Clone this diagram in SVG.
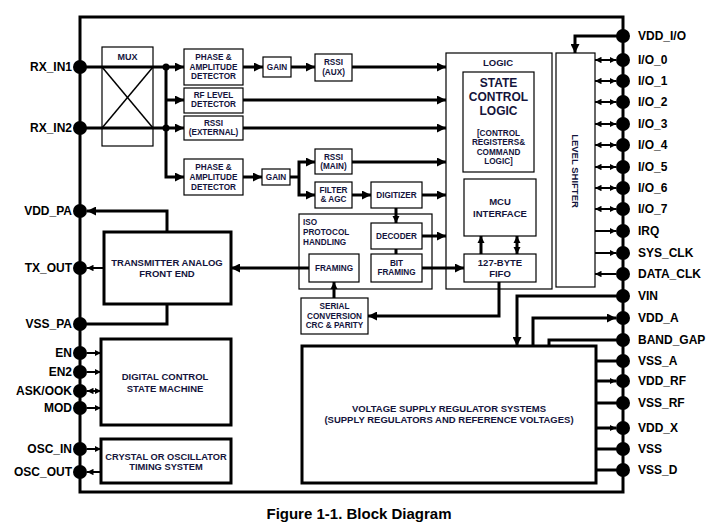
<svg xmlns="http://www.w3.org/2000/svg" width="717" height="528" viewBox="0 0 717 528">
<style>
.b{fill:#fff;stroke:#000;stroke-width:1.2}
.bt{fill:#fff;stroke:#000;stroke-width:3}
.c{fill:none;stroke:#000;stroke-width:3}
.cs{fill:none;stroke:#000;stroke-width:2}
.cx{fill:none;stroke:#000;stroke-width:1.5}
text{font-family:"Liberation Sans",Arial,sans-serif;font-weight:bold}
.t{fill:#14143c;text-anchor:middle}
.s{font-size:8.2px}
.m{font-size:9.5px}
.pl{font-size:12px;fill:#000;text-anchor:end}
.pr{font-size:12px;fill:#000}
.dot{fill:#000}
</style>
<defs>
<marker id="a" viewBox="0 0 10 10" refX="10" refY="5" markerWidth="9" markerHeight="9" markerUnits="userSpaceOnUse" orient="auto-start-reverse"><path d="M0,0L10,5L0,10z"/></marker>
<marker id="am" viewBox="0 0 10 10" refX="10" refY="5" markerWidth="7" markerHeight="8" markerUnits="userSpaceOnUse" orient="auto-start-reverse"><path d="M0,0L10,5L0,10z"/></marker>
<marker id="as" viewBox="0 0 10 10" refX="10" refY="5" markerWidth="6.5" markerHeight="6.5" markerUnits="userSpaceOnUse" orient="auto-start-reverse"><path d="M0,0L10,5L0,10z"/></marker>
</defs>
<rect width="717" height="528" fill="#fff"/>
<rect id="frame" x="80" y="17" width="543" height="475" fill="none" stroke="#000" stroke-width="3"/>

<g id="mux"><rect class="b" x="102" y="47" width="51" height="99"/><line class="cx" x1="102" y1="67" x2="153" y2="128"/><line class="cx" x1="102" y1="128" x2="153" y2="67"/><text class="t m" x="127.5" y="59.5" style="font-size:9px">MUX</text></g>
<g id="pad1"><rect class="b" x="184" y="49" width="59" height="36"/><text class="t s" x="213.5" y="60">PHASE &amp;</text><text class="t s" x="213.5" y="69.5">AMPLITUDE</text><text class="t s" x="213.5" y="79">DETECTOR</text></g>
<g id="gain1"><rect class="b" x="263" y="57" width="28" height="20"/><text class="t s" x="277" y="70">GAIN</text></g>
<g id="rssiaux"><rect class="b" x="315" y="54" width="37" height="27"/><text class="t s" x="333.5" y="65">RSSI</text><text class="t s" x="333.5" y="75">(AUX)</text></g>
<g id="rflevel"><rect class="b" x="184" y="88" width="59" height="25"/><text class="t s" x="213.5" y="98">RF LEVEL</text><text class="t s" x="213.5" y="107">DETECTOR</text></g>
<g id="rssiext"><rect class="b" x="184" y="116" width="59" height="24"/><text class="t s" x="213.5" y="126">RSSI</text><text class="t s" x="213.5" y="135">(EXTERNAL)</text></g>
<g id="pad2"><rect class="b" x="184" y="159" width="59" height="36"/><text class="t s" x="213.5" y="170">PHASE &amp;</text><text class="t s" x="213.5" y="180">AMPLITUDE</text><text class="t s" x="213.5" y="189.5">DETECTOR</text></g>
<g id="gain2"><rect class="b" x="262" y="169" width="28" height="16"/><text class="t s" x="276" y="180">GAIN</text></g>
<g id="rssimain"><rect class="b" x="315" y="149" width="37" height="25"/><text class="t s" x="333.5" y="159.5">RSSI</text><text class="t s" x="333.5" y="168.5">(MAIN)</text></g>
<g id="filter"><rect class="b" x="315" y="182" width="37" height="26"/><text class="t s" x="333.5" y="193">FILTER</text><text class="t s" x="333.5" y="202">&amp; AGC</text></g>
<g id="digitizer"><rect class="b" x="371" y="182" width="51" height="26"/><text class="t s" x="396.5" y="198">DIGITIZER</text></g>
<g id="iso"><rect class="b" x="299" y="214" width="133" height="75"/><text class="t s" x="303" y="224.7" style="text-anchor:start">ISO</text><text class="t s" x="303" y="234.7" style="text-anchor:start">PROTOCOL</text><text class="t s" x="303" y="244.7" style="text-anchor:start">HANDLING</text></g>
<g id="decoder"><rect class="b" x="371" y="223" width="51" height="26"/><text class="t s" x="396.5" y="239">DECODER</text></g>
<g id="framing"><rect class="b" x="309" y="254" width="50" height="28"/><text class="t s" x="334" y="270.7">FRAMING</text></g>
<g id="bitframing"><rect class="b" x="371" y="254" width="51" height="28"/><text class="t s" x="396.5" y="265.7">BIT</text><text class="t s" x="396.5" y="275">FRAMING</text></g>
<g id="serial"><rect class="b" x="301" y="298" width="67" height="36"/><text class="t s" x="334.5" y="308.7">SERIAL</text><text class="t s" x="334.5" y="318.7">CONVERSION</text><text class="t s" x="334.5" y="328">CRC &amp; PARITY</text></g>
<g id="logic"><rect class="b" x="446" y="53" width="106" height="236"/><text class="t m" x="498" y="66">LOGIC</text></g>
<g id="statecontrol"><rect class="b" x="463" y="72" width="71" height="100"/><text class="t" x="498.5" y="87" style="font-size:12px">STATE</text><text class="t" x="498.5" y="101" style="font-size:12px">CONTROL</text><text class="t" x="498.5" y="115" style="font-size:12px">LOGIC</text><text class="t s" x="498.5" y="136.3">[CONTROL</text><text class="t s" x="498.5" y="145.3">REGISTERS&amp;</text><text class="t s" x="498.5" y="155">COMMAND</text><text class="t s" x="498.5" y="164">LOGIC]</text></g>
<g id="mcu"><rect class="b" x="464" y="179" width="72" height="57"/><text class="t m" x="500" y="205">MCU</text><text class="t m" x="500" y="216.7">INTERFACE</text></g>
<g id="fifo"><rect class="b" x="464" y="254" width="72" height="28"/><text class="t m" x="500" y="265.7">127-BYTE</text><text class="t m" x="500" y="276.7">FIFO</text></g>
<g id="levelshifter"><rect class="b" x="556" y="53" width="39" height="234"/><text class="t m" transform="translate(575.5,171) rotate(90)" x="0" y="3.4">LEVEL SHIFTER</text></g>
<g id="transmitter"><rect class="bt" x="104" y="232" width="127" height="72"/><text class="t m" x="167" y="265.5">TRANSMITTER ANALOG</text><text class="t m" x="167" y="277">FRONT END</text></g>
<g id="digital"><rect class="bt" x="101" y="339" width="130" height="86"/><text class="t m" x="165" y="380">DIGITAL CONTROL</text><text class="t m" x="165" y="391.7">STATE MACHINE</text></g>
<g id="crystal"><rect class="bt" x="101" y="439" width="130" height="44"/><text class="t" x="166" y="460" style="font-size:9.3px">CRYSTAL OR OSCILLATOR</text><text class="t" x="166" y="470" style="font-size:9.3px">TIMING SYSTEM</text></g>
<g id="vsrs"><rect class="bt" x="302" y="346" width="294" height="137"/><text class="t m" x="449" y="411.7">VOLTAGE SUPPLY REGULATOR SYSTEMS</text><text class="t m" x="449" y="422.7">(SUPPLY REGULATORS AND REFERENCE VOLTAGES)</text></g>

<g id="connectors">
<path class="c" d="M80,67H184" marker-end="url(#a)"/>
<path class="c" d="M80,128H184" marker-end="url(#a)"/>
<path class="c" d="M166,67V177H184" marker-end="url(#a)"/>
<path class="c" d="M166,100H184" marker-end="url(#a)"/>
<circle class="dot" cx="166" cy="67" r="3.5"/>
<circle class="dot" cx="166" cy="128" r="3.5"/>
<path class="c" d="M243,67H263" marker-end="url(#a)"/>
<path class="c" d="M291,67H315" marker-end="url(#a)"/>
<path class="c" d="M352,67H446" marker-end="url(#a)"/>
<path class="c" d="M243,100H446" marker-end="url(#a)"/>
<path class="c" d="M243,128H446" marker-end="url(#a)"/>
<path class="c" d="M243,177H262" marker-end="url(#a)"/>
<path class="c" d="M290,177H299"/>
<path class="c" d="M315,162H299V195H315" marker-start="url(#a)" marker-end="url(#a)"/>
<path class="c" d="M352,162H446" marker-end="url(#a)"/>
<path class="c" d="M352,195H371" marker-end="url(#a)"/>
<path class="c" d="M422,195H446" marker-end="url(#a)"/>
<path class="c" d="M396,208V223" marker-end="url(#am)"/>
<path class="c" d="M396,249V254"/>
<path class="c" d="M422,236H446" marker-end="url(#a)"/>
<path class="c" d="M422,268H464" marker-end="url(#a)"/>
<path class="c" d="M309,268H231" marker-end="url(#a)"/>
<path class="c" d="M334,298V282" marker-end="url(#am)"/>
<path class="c" d="M499,282V316H368" marker-end="url(#a)"/>
<path class="c" d="M481,254V236" marker-end="url(#am)"/>
<path class="c" d="M517,254V236" marker-start="url(#am)" marker-end="url(#am)"/>
<path class="c" d="M623,36H575V53" marker-end="url(#a)"/>
<path class="cs" d="M595,60H616" marker-start="url(#as)" marker-end="url(#as)"/>
<path class="cs" d="M595,81H616" marker-start="url(#as)" marker-end="url(#as)"/>
<path class="cs" d="M595,102H616" marker-start="url(#as)" marker-end="url(#as)"/>
<path class="cs" d="M595,124H616" marker-start="url(#as)" marker-end="url(#as)"/>
<path class="cs" d="M595,145H616" marker-start="url(#as)" marker-end="url(#as)"/>
<path class="cs" d="M595,167H616" marker-start="url(#as)" marker-end="url(#as)"/>
<path class="cs" d="M595,188H616" marker-start="url(#as)" marker-end="url(#as)"/>
<path class="cs" d="M595,209H616" marker-start="url(#as)" marker-end="url(#as)"/>
<path class="cs" d="M595,231H616" marker-end="url(#as)"/>
<path class="cs" d="M595,253H616" marker-end="url(#as)"/>
<path class="cs" d="M616,274H595" marker-end="url(#as)"/>
<path class="c" d="M623,296H517V346" marker-end="url(#a)"/>
<path class="c" d="M533,346V318H616" marker-end="url(#a)"/>
<path class="c" d="M549,346V340H623"/>
<path class="c" d="M596,361H623"/>
<path class="c" d="M596,381H616" marker-end="url(#as)"/>
<path class="c" d="M596,403H623"/>
<path class="c" d="M596,428H616" marker-end="url(#as)"/>
<path class="c" d="M596,449H623"/>
<path class="c" d="M596,470H623"/>
<path class="c" d="M167,232V211H87" marker-end="url(#a)"/>
<path class="c" d="M167,304V324H80"/>
<path class="cs" d="M104,268H87" marker-end="url(#as)"/>
<path class="cs" d="M87,353H101" marker-end="url(#as)"/>
<path class="cs" d="M87,372H101" marker-end="url(#as)"/>
<path class="cs" d="M87,391H101" marker-start="url(#as)" marker-end="url(#as)"/>
<path class="cs" d="M87,408H101" marker-end="url(#as)"/>
<path class="cs" d="M87,449H101" marker-end="url(#as)"/>
<path class="cs" d="M101,472H87" marker-end="url(#as)"/>
</g>

<g id="pins-left">
<circle class="dot" cx="80" cy="67" r="7"/><text class="pl" x="72" y="71.3">RX_IN1</text>
<circle class="dot" cx="80" cy="128" r="7"/><text class="pl" x="72" y="132.3">RX_IN2</text>
<circle class="dot" cx="80" cy="211" r="7"/><text class="pl" x="72" y="215.3">VDD_PA</text>
<circle class="dot" cx="80" cy="268" r="7"/><text class="pl" x="72" y="272.3">TX_OUT</text>
<circle class="dot" cx="80" cy="324" r="7"/><text class="pl" x="72" y="328.3">VSS_PA</text>
<circle class="dot" cx="80" cy="353" r="7"/><text class="pl" x="72" y="357.3">EN</text>
<circle class="dot" cx="80" cy="372" r="7"/><text class="pl" x="72" y="376.3">EN2</text>
<circle class="dot" cx="80" cy="391" r="7"/><text class="pl" x="72" y="395.3">ASK/OOK</text>
<circle class="dot" cx="80" cy="408" r="7"/><text class="pl" x="72" y="412.3">MOD</text>
<circle class="dot" cx="80" cy="449" r="7"/><text class="pl" x="72" y="453.3">OSC_IN</text>
<circle class="dot" cx="80" cy="472" r="7"/><text class="pl" x="72" y="476.3">OSC_OUT</text>
</g>
<g id="pins-right">
<circle class="dot" cx="623" cy="36" r="7"/><text class="pr" x="638" y="40.3">VDD_I/O</text>
<circle class="dot" cx="623" cy="60" r="7"/><text class="pr" x="638" y="64.3">I/O_0</text>
<circle class="dot" cx="623" cy="81" r="7"/><text class="pr" x="638" y="85.3">I/O_1</text>
<circle class="dot" cx="623" cy="102" r="7"/><text class="pr" x="638" y="106.3">I/O_2</text>
<circle class="dot" cx="623" cy="124" r="7"/><text class="pr" x="638" y="128.3">I/O_3</text>
<circle class="dot" cx="623" cy="145" r="7"/><text class="pr" x="638" y="149.3">I/O_4</text>
<circle class="dot" cx="623" cy="167" r="7"/><text class="pr" x="638" y="171.3">I/O_5</text>
<circle class="dot" cx="623" cy="188" r="7"/><text class="pr" x="638" y="192.3">I/O_6</text>
<circle class="dot" cx="623" cy="209" r="7"/><text class="pr" x="638" y="213.3">I/O_7</text>
<circle class="dot" cx="623" cy="231" r="7"/><text class="pr" x="638" y="235.3">IRQ</text>
<circle class="dot" cx="623" cy="253" r="7"/><text class="pr" x="638" y="257.3">SYS_CLK</text>
<circle class="dot" cx="623" cy="274" r="7"/><text class="pr" x="638" y="278.3">DATA_CLK</text>
<circle class="dot" cx="623" cy="296" r="7"/><text class="pr" x="638" y="300.3">VIN</text>
<circle class="dot" cx="623" cy="318" r="7"/><text class="pr" x="638" y="322.3">VDD_A</text>
<circle class="dot" cx="623" cy="340" r="7"/><text class="pr" x="638" y="344.3">BAND_GAP</text>
<circle class="dot" cx="623" cy="361" r="7"/><text class="pr" x="638" y="365.3">VSS_A</text>
<circle class="dot" cx="623" cy="381" r="7"/><text class="pr" x="638" y="385.3">VDD_RF</text>
<circle class="dot" cx="623" cy="403" r="7"/><text class="pr" x="638" y="407.3">VSS_RF</text>
<circle class="dot" cx="623" cy="428" r="7"/><text class="pr" x="638" y="432.3">VDD_X</text>
<circle class="dot" cx="623" cy="449" r="7"/><text class="pr" x="638" y="453.3">VSS</text>
<circle class="dot" cx="623" cy="470" r="7"/><text class="pr" x="638" y="474.3">VSS_D</text>
</g>
<text x="359" y="518.5" style="font-size:15px;text-anchor:middle;fill:#000">Figure 1-1. Block Diagram</text>
</svg>
